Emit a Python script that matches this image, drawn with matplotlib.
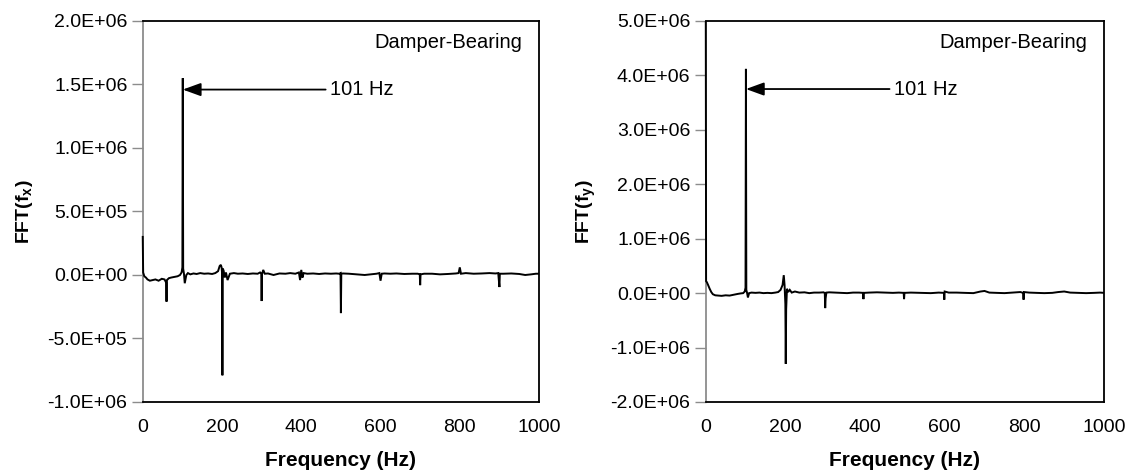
import matplotlib
matplotlib.use("Agg")
import matplotlib.pyplot as plt
from matplotlib.ticker import FuncFormatter, FixedLocator
from matplotlib.transforms import Bbox, TransformedBbox

plt.rcParams['font.family'] = ['Liberation Sans', 'DejaVu Sans']
plt.rcParams['mathtext.fontset'] = 'custom'
plt.rcParams['mathtext.rm'] = 'Liberation Sans'
plt.rcParams['mathtext.bf'] = 'Liberation Sans:bold'

# ---- spectrum of f_x (Damper-Bearing) ----
freq_x = [0, 1, 4, 8, 12, 18, 25, 32, 40, 48,
          55, 59, 60, 61, 66, 72, 80, 88, 94, 98,
          100, 101, 102, 104, 106, 110, 114, 120, 128, 136,
          145, 155, 165, 175, 183, 190, 194, 197, 199, 200,
          201, 202, 204, 207, 210, 214, 220, 230, 240, 252,
          265, 278, 290, 296, 299, 300, 301, 304, 308, 316,
          330, 345, 360, 372, 385, 394, 397, 400, 403, 406,
          415, 430, 445, 460, 475, 488, 496, 499, 500, 501,
          505, 520, 540, 560, 575, 590, 597, 600, 603, 610,
          625, 640, 660, 680, 694, 699, 700, 701, 710, 730,
          750, 770, 790, 797, 800, 803, 815, 835, 855, 875,
          890, 897, 900, 901, 910, 930, 950, 965, 980, 992,
          1000]
fft_x = [3.0e5, 2.0e4, -1.0e4, -2.0e4, -3.5e4, -4.5e4, -4.0e4, -3.5e4, -4.5e4, -3.0e4,
         -3.5e4, -6.0e4, -2.1e5, -4.0e4, -2.5e4, -2.0e4, -1.5e4, -1.0e4, 0.0, 2.0e4,
         6.0e4, 1.55e6, 5.0e4, 1.0e4, -6.5e4, 0.0, 1.5e4, 5.0e3, 1.2e4, 8.0e3,
         1.5e4, 1.0e4, 1.2e4, 8.0e3, 1.5e4, 3.0e4, 7.0e4, 8.0e4, 6.0e4, 2.0e4,
         -7.9e5, 5.0e4, 3.5e4, -2.0e4, 2.0e4, -4.0e4, 1.0e4, 1.5e4, 1.0e4, 1.2e4,
         8.0e3, 1.2e4, 1.0e4, 2.0e4, 1.0e4, -2.05e5, 5.0e3, 4.0e4, 1.0e4, 1.2e4,
         0.0, 1.2e4, 1.0e4, 1.5e4, 1.0e4, 2.0e4, -4.0e4, 4.0e4, -2.0e4, 1.5e4,
         1.0e4, 1.2e4, 8.0e3, 1.2e4, 1.0e4, 1.2e4, 1.0e4, 1.5e4, -3.0e5, 1.0e4,
         1.2e4, 1.0e4, 5.0e3, 0.0, 5.0e3, 1.0e4, 1.5e4, -4.5e4, 1.0e4, 1.2e4,
         1.0e4, 1.2e4, 8.0e3, 1.0e4, 1.0e4, 5.0e3, -8.0e4, 5.0e3, 1.0e4, 1.0e4,
         5.0e3, 8.0e3, 1.2e4, 1.5e4, 6.0e4, 1.0e4, 1.5e4, 1.0e4, 1.2e4, 1.5e4,
         1.2e4, 1.5e4, -9.5e4, 1.0e4, 1.0e4, 1.2e4, 8.0e3, 0.0, 5.0e3, 1.0e4,
         1.0e4]

# ---- spectrum of f_y (Damper-Bearing) ----
freq_y = [0, 1, 3, 6, 10, 14, 18, 24, 32, 40,
          50, 60, 70, 80, 88, 94, 98, 100, 101, 102,
          104, 106, 109, 115, 125, 135, 145, 155, 165, 175,
          182, 188, 193, 196, 198, 200, 201, 202, 204, 207,
          211, 216, 224, 235, 248, 260, 272, 285, 296, 299,
          300, 301, 303, 310, 325, 340, 355, 370, 385, 395,
          396, 397, 410, 430, 450, 470, 485, 497, 498, 499,
          515, 540, 565, 585, 598, 599, 600, 610, 630, 650,
          672, 690, 700, 712, 730, 750, 770, 790, 797, 798,
          799, 812, 830, 850, 870, 885, 900, 915, 935, 955,
          975, 990, 1000]
fft_y = [6.5e6, 2.2e5, 2.0e5, 1.5e5, 8.0e4, 2.0e4, -2.0e4, -4.0e4, -4.5e4, -5.0e4,
         -4.0e4, -4.5e4, -3.0e4, -1.5e4, -5.0e3, 0.0, 3.0e4, 1.0e5, 4.12e6, 6.0e4,
         0.0, -8.0e4, 0.0, 1.0e4, 5.0e3, 1.0e4, 0.0, 5.0e3, 0.0, 1.0e4,
         2.0e4, 6.0e4, 1.5e5, 3.3e5, 1.5e5, -2.0e5, -1.3e6, -3.0e5, 8.0e4, 2.0e4,
         6.0e4, 1.0e4, 3.0e4, 1.0e4, 1.5e4, 0.0, 1.0e4, 1.0e4, 1.5e4, 0.0,
         -2.75e5, -1.0e5, 1.0e4, 1.5e4, 1.0e4, 5.0e3, 0.0, 1.0e4, 1.0e4, 5.0e3,
         -1.1e5, 5.0e3, 1.0e4, 1.5e4, 1.0e4, 5.0e3, 1.0e4, 5.0e3, -1.1e5, 5.0e3,
         1.0e4, 5.0e3, 0.0, 1.0e4, 5.0e3, -1.2e5, 3.0e4, 1.0e4, 1.0e4, 5.0e3,
         0.0, 3.0e4, 4.0e4, 1.0e4, 5.0e3, 0.0, 1.0e4, 2.0e4, 5.0e3, -1.2e5,
         2.0e4, 1.0e4, 5.0e3, 0.0, 5.0e3, 2.0e4, 3.0e4, 1.0e4, 5.0e3, 0.0,
         5.0e3, 1.0e4, 5.0e3]

x_ticks = [0, 200, 400, 600, 800, 1000]
y_ticks_x = [-1.0e6, -5.0e5, 0.0, 5.0e5, 1.0e6, 1.5e6, 2.0e6]
y_ticks_y = [-2.0e6, -1.0e6, 0.0, 1.0e6, 2.0e6, 3.0e6, 4.0e6, 5.0e6]

peak_freq = 101
peak_label = "101 Hz"
panel_title = "Damper-Bearing"

fig = plt.figure(figsize=(11.32, 4.75), dpi=100)
ax_l = fig.add_axes([0.1261, 0.1537, 0.3501, 0.8021])
ax_r = fig.add_axes([0.6234, 0.1537, 0.3519, 0.8021])

sci_fmt = FuncFormatter(lambda v, pos: f"{v:.1E}")

panels = [
    (ax_l, freq_x, fft_x, y_ticks_x, r"FFT(f$_\mathbf{x}$)", 1.46e6),
    (ax_r, freq_y, fft_y, y_ticks_y, r"FFT(f$_\mathbf{y}$)", 3.75e6),
]

for ax, fr, val, yt, ylab, arrow_y in panels:
    line, = ax.plot(fr, val, color="black", lw=1.4, solid_joinstyle="miter", zorder=3)
    # let the trace run over the left spine so a clipped DC value stays visible
    line.set_clip_box(TransformedBbox(Bbox([[-0.006, 0.0], [1.0, 1.0]]), ax.transAxes))
    ax.set_xlim(x_ticks[0], x_ticks[-1])
    ax.set_ylim(yt[0], yt[-1])
    ax.xaxis.set_major_locator(FixedLocator(x_ticks))
    ax.yaxis.set_major_locator(FixedLocator(yt))
    ax.yaxis.set_major_formatter(sci_fmt)
    ax.tick_params(axis="y", direction="out", length=8, width=1.0,
                   color="#8c8c8c", labelsize=14, pad=3)
    ax.tick_params(axis="x", length=0, labelsize=14, pad=12)
    for side in ("top", "right", "bottom"):
        ax.spines[side].set_color("black")
        ax.spines[side].set_linewidth(1.3)
    ax.spines["left"].set_color("#8c8c8c")
    ax.spines["left"].set_linewidth(1.3)
    ax.set_xlabel("Frequency (Hz)", fontsize=15, fontweight="bold", labelpad=11)
    ax.set_ylabel(ylab, fontsize=14, fontweight="bold", labelpad=9)
    ax.text(0.958, 0.944, panel_title, transform=ax.transAxes,
            ha="right", va="center", fontsize=14.5)
    ax.annotate(peak_label, xy=(peak_freq, arrow_y), xytext=(472, arrow_y),
                ha="left", va="center", fontsize=14.5,
                arrowprops=dict(arrowstyle="-|>,head_length=1.1,head_width=0.4",
                                mutation_scale=10, color="black", lw=1.3,
                                shrinkA=1, shrinkB=0))

fig.savefig("out.png", dpi=100)
